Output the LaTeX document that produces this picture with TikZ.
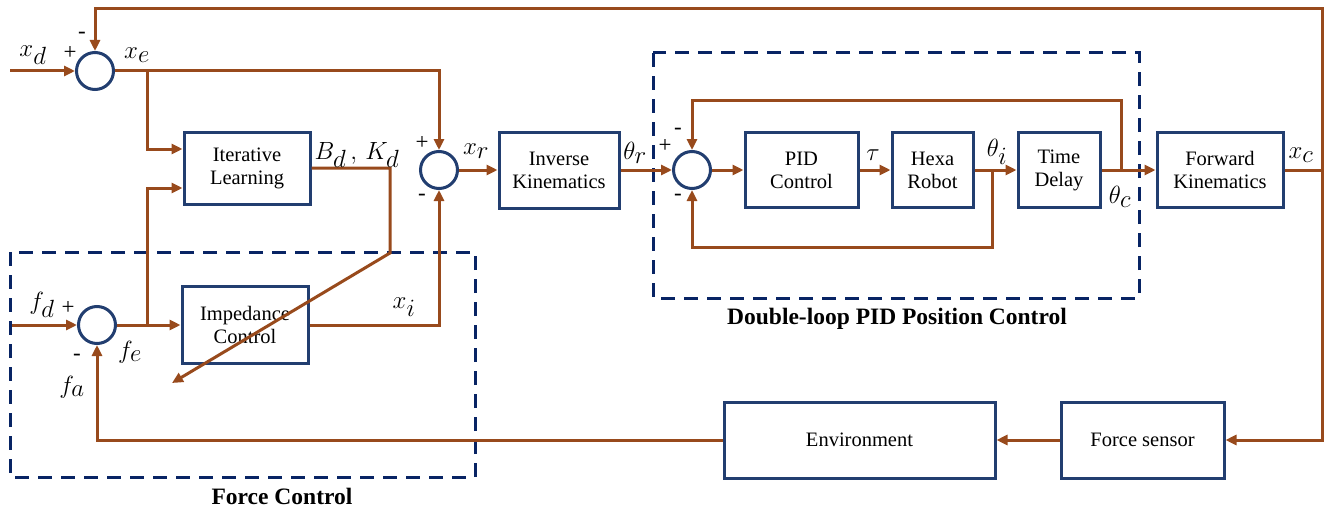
\documentclass[tikz,border=0pt]{standalone}
\usepackage{fontspec}
\setmainfont{Liberation Serif}
\usetikzlibrary{arrows.meta,calc}
\definecolor{wirebrown}{RGB}{152,74,28}
\definecolor{boxblue}{RGB}{34,62,112}
\definecolor{dashblue}{RGB}{8,36,100}

\begin{document}
\begin{tikzpicture}[x=1pt,y=-1pt,
  blk/.style={draw=boxblue,line width=3pt,fill=white,inner sep=0pt,align=center,
              font=\fontsize{20.5}{23}\selectfont},
  sumnode/.style={circle,draw=boxblue,line width=3pt,fill=white,inner sep=0pt,minimum size=37pt},
  wire/.style={draw=wirebrown,line width=3pt},
  arr/.style={wire,-{Triangle[length=11pt,width=10pt]}},
  sig/.style={inner sep=0pt,font=\fontsize{33}{35}\selectfont},
  sgn/.style={inner sep=0pt,font=\fontsize{23}{24}\selectfont},
  grp/.style={draw=dashblue,line width=3pt,dash pattern=on 14pt off 9pt},
  grplabel/.style={inner sep=0pt,font=\fontsize{23.5}{26}\selectfont\bfseries}
]
\useasboundingbox (0,0) rectangle (1330,511);

% group frames
\draw[grp] (10,252) rectangle (475,477);
\draw[grp] (653,53) rectangle (1139,298);
\node[grplabel] (fclab) at (282,496) {Force Control};
\node[grplabel] (pidlab) at (897,319) {Double-loop PID Position Control};

% summing junctions
\node[sumnode] (s1) at (95,71) {};
\node[sumnode] (s2) at (439,170) {};
\node[sumnode] (s3) at (692,170) {};
\node[sumnode] (s4) at (97,325) {};

% blocks
\node[blk,minimum width=126pt,minimum height=72pt] (IL) at (247,168) {Iterative\\Learning};
\node[blk,minimum width=126pt,minimum height=77pt] (IMP) at (245,325) {Impedance\\Control};
\node[blk,minimum width=120pt,minimum height=76pt] (IK) at (559,170) {Inverse\\Kinematics};
\node[blk,minimum width=113pt,minimum height=75pt] (PID) at (801.5,170) {PID\\Control};
\node[blk,minimum width=81pt,minimum height=75pt] (HR) at (932.5,170) {Hexa\\Robot};
\node[blk,minimum width=82pt,minimum height=75pt] (TD) at (1059,170) {Time\\Delay};
\node[blk,minimum width=126pt,minimum height=75pt] (FK) at (1220,170) {Forward\\Kinematics};
\node[blk,minimum width=271pt,minimum height=76pt] (ENV) at (859.5,440) {Environment};
\node[blk,minimum width=163pt,minimum height=76pt] (FS) at (1142.5,440) {Force sensor};

% junction points
\coordinate (xdin) at (10,71);
\coordinate (fdin) at (12,325);
\coordinate (jc) at (1322,170);
\coordinate (jtop) at (1322,9);
\coordinate (b1) at (147,71);
\coordinate (b2) at (147,325);
\coordinate (bk1) at (390,168);
\coordinate (bk2) at (390,253);
\coordinate (bktip) at (172,383);
\coordinate (c1) at (1121,170);
\coordinate (c1t) at (1121,100);
\coordinate (c2) at (992,170);
\coordinate (c2b) at (992,247);

% outer position loop
\draw[wire] (FK.east) -- (jc);
\draw[arr] (jc) -- (jtop) -| (s1.north);
\draw[arr] (jc) |- (FS.east);
\draw[arr] (FS.west) -- (ENV.east);
\draw[arr] (ENV.west) -| (s4.south);

% force and position references
\draw[arr] (xdin) -- (s1.west);
\draw[arr] (fdin) -- (s4.west);
\draw[arr] (s1.east) -| (s2.north);
\draw[arr] (b1) |- ($(IL.west)+(0,-19)$);
\draw[arr] (s4.east) -- (IMP.west);
\draw[arr] (b2) |- ($(IL.west)+(0,20)$);
\draw[arr] (IMP.east) -| (s2.south);

% main forward path
\draw[arr] (s2.east) -- (IK.west);
\draw[arr] (IK.east) -- (s3.west);
\draw[arr] (s3.east) -- (PID.west);
\draw[arr] (PID.east) -- (HR.west);
\draw[arr] (HR.east) -- (TD.west);
\draw[arr] (TD.east) -- (FK.west);

% inner loops
\draw[arr] (c1) -- (c1t) -| (s3.north);
\draw[arr] (c2) -- (c2b) -| (s3.south);

% learned impedance parameters
\draw[arr] (IL.east) -- (bk1) -- (bk2) -- (bktip);

% signal labels
\node[sig] (lxd) at (33,55) {$x_d$};
\node[sig] (lxe) at (137,55) {$x_e$};
\node[sig] (lbk) at (357,155) {$B_d\,,\,K_d$};
\node[sig] (lxr) at (476,151) {$x_r$};
\node[sig] (ltr) at (635,153) {$\theta_r$};
\node[sig] (ltau) at (873,155) {$\tau$};
\node[sig] (lti) at (997,152) {$\theta_i$};
\node[sig] (ltc) at (1120,197) {$\theta_c$};
\node[sig] (lxc) at (1301,155) {$x_c$};
\node[sig] (lfd) at (42,305) {$f_d$};
\node[sig] (lfe) at (130,352) {$f_e$};
\node[sig] (lfa) at (72,387) {$f_a$};
\node[sig] (lxi) at (404,307) {$x_i$};

% signs at the junctions
\node[sgn] (p1) at (70,53) {+};
\node[sgn] (m1) at (82,35) {-};
\node[sgn] (p2) at (422,143) {+};
\node[sgn] (m2) at (422,197) {-};
\node[sgn] (p3) at (665,146) {+};
\node[sgn] (m3a) at (678,131) {-};
\node[sgn] (m3b) at (678,197) {-};
\node[sgn] (p4) at (68,308) {+};
\node[sgn] (m4) at (77,357) {-};
\end{tikzpicture}
\end{document}
